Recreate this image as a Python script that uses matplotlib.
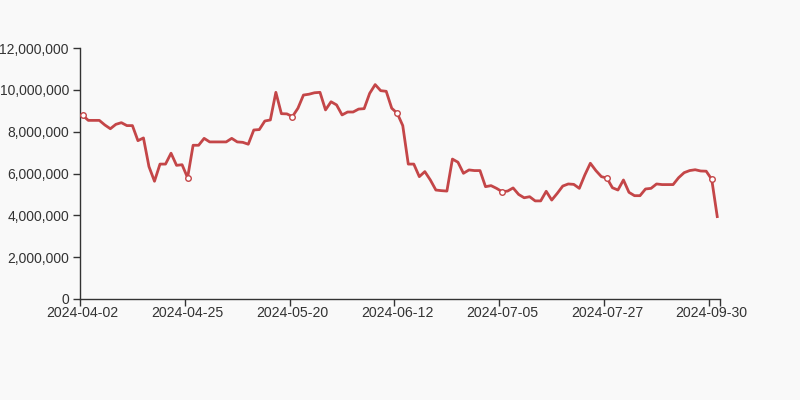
import matplotlib.pyplot as plt
from matplotlib.ticker import FuncFormatter

# values, one per category (116 points)
values = [
    8.78, 8.54, 8.54, 8.54, 8.32, 8.14, 8.35, 8.43, 8.29, 8.29,
    7.57, 7.70, 6.33, 5.63, 6.45, 6.45, 6.97, 6.39, 6.42, 5.80,
    7.35, 7.35, 7.68, 7.51, 7.51, 7.51, 7.51, 7.68, 7.51, 7.49,
    7.40, 8.08, 8.10, 8.51, 8.56, 9.88, 8.86, 8.85, 8.72, 9.12,
    9.75, 9.79, 9.86, 9.88, 9.04, 9.43, 9.28, 8.80, 8.94, 8.94,
    9.08, 9.10, 9.83, 10.25, 9.96, 9.93, 9.12, 8.88, 8.29, 6.45,
    6.45, 5.85, 6.09, 5.69, 5.21, 5.18, 5.16, 6.69, 6.54, 6.01,
    6.17, 6.14, 6.14, 5.37, 5.42, 5.29, 5.13, 5.16, 5.31, 5.00,
    4.84, 4.89, 4.69, 4.69, 5.15, 4.73, 5.05, 5.40, 5.50, 5.48,
    5.29, 5.93, 6.49, 6.14, 5.85, 5.78, 5.32, 5.21, 5.69, 5.10,
    4.94, 4.94, 5.26, 5.29, 5.50, 5.47, 5.47, 5.47, 5.80, 6.04,
    6.14, 6.18, 6.12, 6.11, 5.72, 3.94,
]
values = [v * 1e6 for v in values]

label_step = 19
tick_labels = ["2024-04-02", "2024-04-25", "2024-05-20", "2024-06-12",
               "2024-07-05", "2024-07-27", "2024-09-30"]

line_color = "#c44648"
text_color = "#333333"
bg = "#f9f9f9"

plt.rcParams["font.family"] = ["Liberation Sans", "DejaVu Sans"]

fig = plt.figure(figsize=(8, 4), dpi=100, facecolor=bg)
ax = fig.add_axes([0.1, 0.2525, 0.8, 0.6275], facecolor=bg)

n = len(values)
xs = [i + 0.5 for i in range(n)]
ax.plot(xs, values, color=line_color, linewidth=2, zorder=2)

# hollow symbols only at the labelled categories
mark_idx = list(range(0, n, label_step))
ax.plot([xs[i] for i in mark_idx], [values[i] for i in mark_idx],
        linestyle="none", marker="o", markersize=4, markerfacecolor="white",
        markeredgecolor=line_color, markeredgewidth=1, zorder=3)

ax.set_xlim(0, n)
ax.set_ylim(0, 12e6)

# ticks on band boundaries, labels on band centres
ax.set_xticks(mark_idx + [n])
ax.set_xticklabels([])
ax.set_xticks([i + 0.5 for i in mark_idx], minor=True)
ax.set_xticklabels(tick_labels, minor=True)
ax.tick_params(axis="x", which="major", length=5, width=1, color=text_color, direction="out")
ax.tick_params(axis="x", which="minor", length=0, pad=5, labelsize=10.2, labelcolor=text_color)

ax.set_yticks([i * 2e6 for i in range(7)])
ax.yaxis.set_major_formatter(FuncFormatter(lambda v, p: f"{int(v):,}"))
ax.tick_params(axis="y", length=5, width=1, color=text_color, pad=3,
               labelsize=10, labelcolor=text_color)

for side in ("top", "right"):
    ax.spines[side].set_visible(False)
for side in ("left", "bottom"):
    ax.spines[side].set_color(text_color)
    ax.spines[side].set_linewidth(1)

fig.savefig("out.png", dpi=100, facecolor=bg)
